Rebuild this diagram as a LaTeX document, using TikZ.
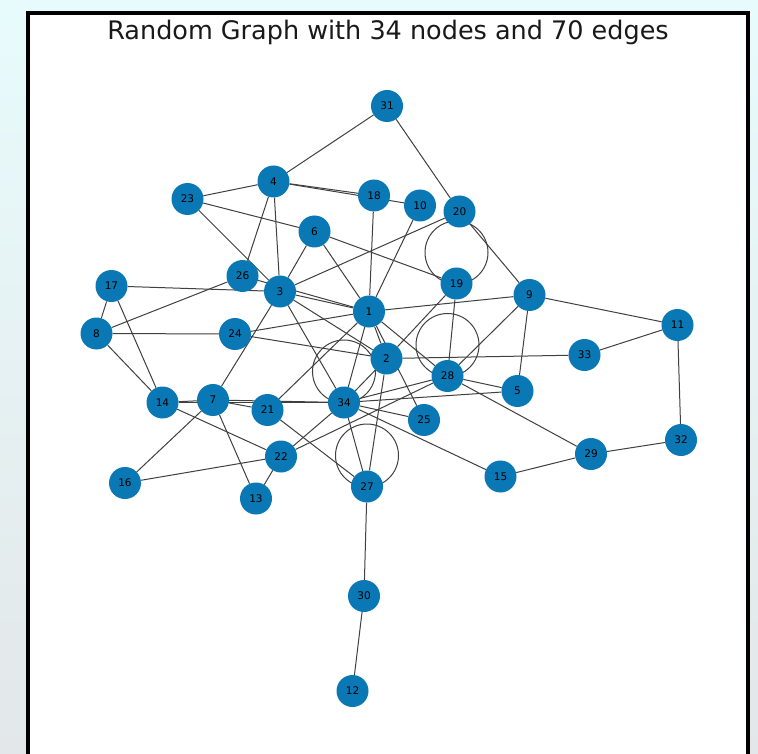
\documentclass[tikz,border=0pt]{standalone}
\usepackage{fontspec}
\setmainfont{DejaVu Sans}
\usetikzlibrary{backgrounds}
\definecolor{nodeblue}{HTML}{0A78B4}
\definecolor{bgtop}{HTML}{E8FBFC}
\definecolor{bgbot}{HTML}{E3E7E9}
\begin{document}
\begin{tikzpicture}[x=1pt,y=-1pt,
  vtx/.style={circle,fill=nodeblue,minimum size=32pt,inner sep=0pt,text=black,font=\fontsize{10.5}{10.5}\selectfont},
  edge/.style={draw=black!75,line width=1pt},
  titletext/.style={font=\fontsize{25.5}{25.5}\selectfont,text=black!90}]
\useasboundingbox (0,0) rectangle (758,754);
% nodes
\node[vtx] (n31) at (387,106) {31};
\node[vtx] (n4) at (273.5,181.5) {4};
\node[vtx] (n23) at (187.5,199) {23};
\node[vtx] (n18) at (374,195.5) {18};
\node[vtx] (n10) at (420,205.5) {10};
\node[vtx] (n20) at (459.5,211.5) {20};
\node[vtx] (n6) at (314.5,231.5) {6};
\node[vtx] (n17) at (111.5,286) {17};
\node[vtx] (n26) at (242.5,276) {26};
\node[vtx] (n3) at (280,291.5) {3};
\node[vtx] (n19) at (456.5,283.5) {19};
\node[vtx] (n9) at (529.5,295) {9};
\node[vtx] (n1) at (369,311.5) {1};
\node[vtx] (n11) at (677.5,325) {11};
\node[vtx] (n8) at (96.5,333.5) {8};
\node[vtx] (n24) at (235,334) {24};
\node[vtx] (n2) at (386.5,358.5) {2};
\node[vtx] (n33) at (584.5,355) {33};
\node[vtx] (n28) at (447.5,376) {28};
\node[vtx] (n5) at (517.5,391) {5};
\node[vtx] (n14) at (162.5,402.5) {14};
\node[vtx] (n7) at (213,400) {7};
\node[vtx] (n21) at (267.5,410) {21};
\node[vtx] (n34) at (344,402.5) {34};
\node[vtx] (n25) at (424,420) {25};
\node[vtx] (n32) at (681,440) {32};
\node[vtx] (n22) at (281,456.5) {22};
\node[vtx] (n29) at (591,454) {29};
\node[vtx] (n15) at (500.5,476.5) {15};
\node[vtx] (n16) at (125,483) {16};
\node[vtx] (n27) at (367,486.5) {27};
\node[vtx] (n13) at (256,498.5) {13};
\node[vtx] (n30) at (364,596) {30};
\node[vtx] (n12) at (352.5,691) {12};
\node[titletext] (title) at (388,32) {Random Graph with 34 nodes and 70 edges};
\begin{pgfonlayer}{background}
\fill[top color=bgtop,bottom color=bgbot] (0,0) rectangle (758,754);
\fill[white] (27.5,13.5) rectangle (748,760);
\draw[line width=4pt,line cap=rect] (27.5,760) -- (27.5,13.5) -- (748,13.5) -- (748,760);
% edges
\foreach \a/\b in {31/4,31/20,4/23,4/18,4/10,23/3,23/6,4/26,4/3,6/3,6/1,6/19,
  17/3,17/8,17/14,8/26,8/24,8/14,26/1,3/1,3/20,3/7,3/34,3/2,
  1/18,1/10,1/9,1/24,1/2,1/25,1/21,1/34,1/28,19/2,19/28,20/9,
  9/11,9/28,9/5,11/33,11/32,32/29,29/15,28/29,2/33,2/34,2/27,
  28/34,28/5,34/5,28/22,34/22,34/25,34/15,34/27,14/7,14/34,7/34,
  7/21,14/22,7/16,7/13,22/16,22/13,21/27,30/27,30/12,24/2}
  {\draw[edge] (n\a) -- (n\b);}
% self-loops
\foreach \n in {19,28,34,27}
  {\draw[edge] (n\n.center) ++(0,-31) circle[radius=31.5pt];}
\end{pgfonlayer}
\end{tikzpicture}
\end{document}
